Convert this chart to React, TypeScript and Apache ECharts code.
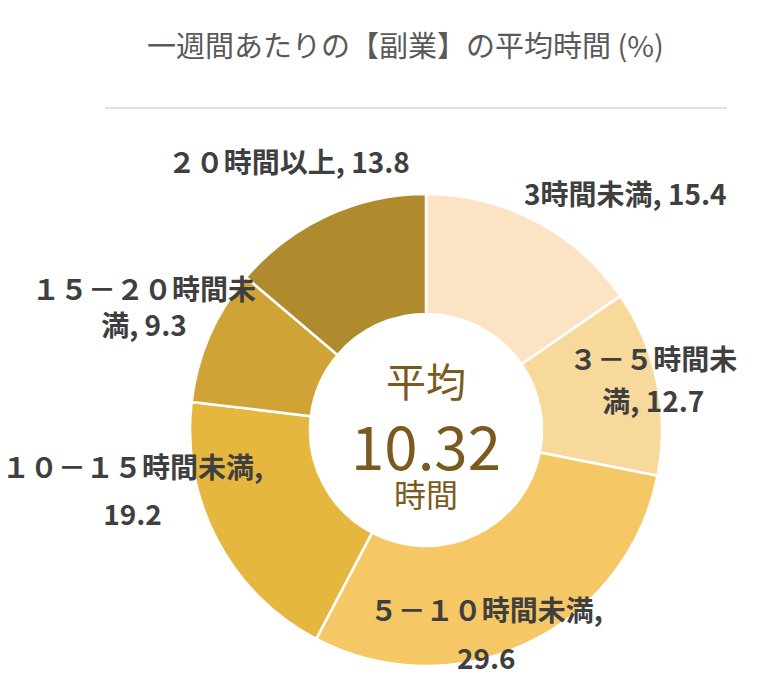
import React, { useEffect, useRef } from "react";
import * as echarts from "echarts";

const titleText = "一週間あたりの【副業】の平均時間 (%)";
const categories = [
  "3時間未満",
  "３－５時間未満",
  "５－１０時間未満",
  "１０－１５時間未満",
  "１５－２０時間未満",
  "２０時間以上",
];
const values = [15.4, 12.7, 29.6, 19.2, 9.3, 13.8];
const averageLabel = "平均";
const averageHours = 10.32;
const averageUnit = "時間";

// where the "name, value" label is wrapped (0 = single line)
const wrapAfter = [0, 6, 9, 10, 8, 0];
const sliceColors = ["#FBE3C3", "#F8D99C", "#F5C865", "#E6B73E", "#D0A336", "#B08B2D"];
const labelOffsets: [number, number][] = [
  [116, -79],
  [52, -15],
  [-17, 42],
  [-135, -24],
  [-118, -52],
  [-62, -107],
];
const labelLineHeights = [42, 42, 48, 47, 36, 42];

const CX = 426;
const CY = 430;

export default function App() {
  const ref = useRef<HTMLDivElement>(null);
  useEffect(() => {
    if (!ref.current) return;
    const chart = echarts.init(ref.current, undefined, { renderer: "svg" });
    const font = "'Noto Sans CJK JP', 'Noto Sans', sans-serif";
    chart.setOption({
      animation: false,
      backgroundColor: "#ffffff",
      title: {
        text: titleText,
        left: 142,
        top: 24,
        textStyle: { fontSize: 29, fontWeight: "normal", color: "#595959", fontFamily: font },
      },
      graphic: [
        {
          type: "line",
          shape: { x1: 105, y1: 108, x2: 727, y2: 108 },
          style: { stroke: "#d9d9d9", lineWidth: 1.5 },
          silent: true,
        },
        {
          type: "text",
          x: CX,
          y: 380,
          style: {
            text: averageLabel,
            fontSize: 40,
            fill: "#7A5A1E",
            fontFamily: font,
            align: "center",
            verticalAlign: "middle",
          },
          z: 10,
        },
        {
          type: "text",
          x: CX,
          y: 443,
          style: {
            text: averageHours.toFixed(2),
            fontSize: 60,
            fill: "#7A5A1E",
            fontFamily: font,
            align: "center",
            verticalAlign: "middle",
          },
          z: 10,
        },
        {
          type: "text",
          x: CX,
          y: 493,
          style: {
            text: averageUnit,
            fontSize: 32,
            fill: "#7A5A1E",
            fontFamily: font,
            align: "center",
            verticalAlign: "middle",
          },
          z: 10,
        },
      ],
      series: [
        {
          type: "pie",
          center: [CX, CY],
          radius: [116, 236],
          startAngle: 90,
          clockwise: true,
          avoidLabelOverlap: false,
          silent: true,
          color: sliceColors,
          itemStyle: { borderColor: "#ffffff", borderWidth: 2.5 },
          emphasis: { disabled: true },
          label: {
            show: true,
            position: "inside",
            fontSize: 28,
            fontWeight: "bold",
            color: "#3f3f3f",
            fontFamily: font,
            lineHeight: 42,
            align: "center",
            textBorderWidth: 0,
            formatter: (p: any) => {
              const s = `${p.name}, ${p.value}`;
              const w = wrapAfter[p.dataIndex];
              if (!w) return s;
              return s.slice(0, w) + "\n" + s.slice(w).trim();
            },
          },
          labelLine: { show: false },
          labelLayout: (params: any) => ({
            dx: labelOffsets[params.dataIndex][0],
            dy: labelOffsets[params.dataIndex][1],
            hideOverlap: false,
          }),
          data: categories.map((name, i) => ({
            name,
            value: values[i],
            label: { lineHeight: labelLineHeights[i] },
          })),
        },
      ],
    });
    return () => chart.dispose();
  }, []);
  return (
    <div
      ref={ref}
      style={{ position: "fixed", left: 0, top: 0, width: 770, height: 698 }}
    />
  );
}
